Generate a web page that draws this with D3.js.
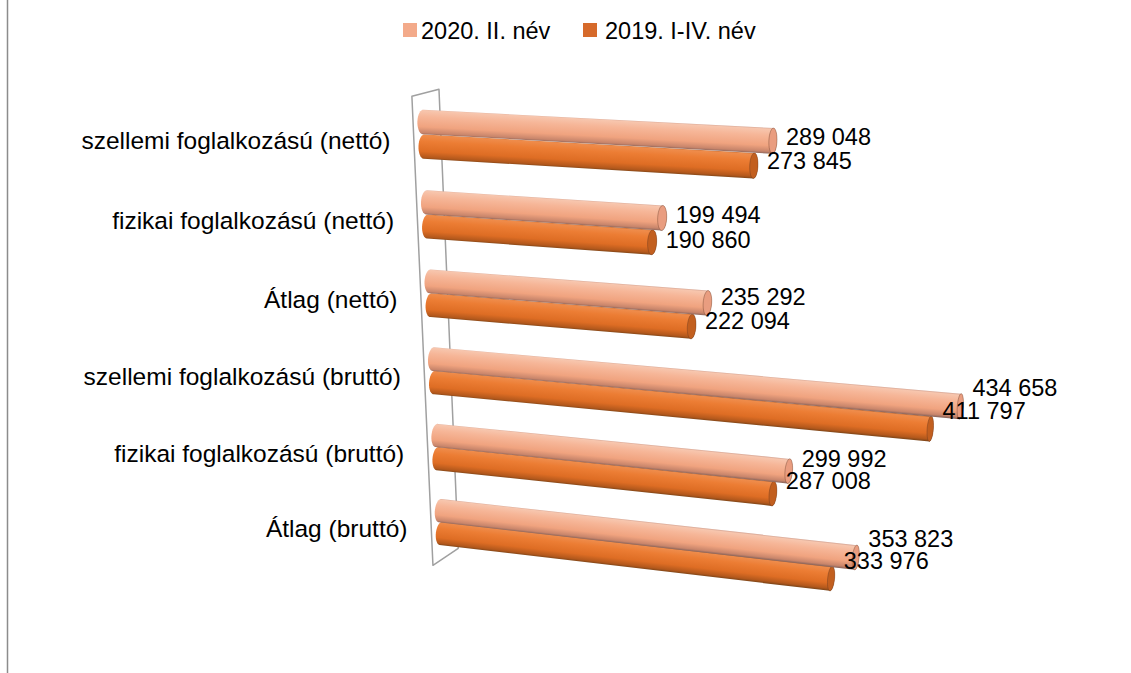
<!DOCTYPE html>
<html>
<head>
<meta charset="utf-8">
<script src="https://cdn.jsdelivr.net/npm/d3@7"></script>
<style>
  body { margin: 0; background: #fff; }
  svg { display: block; font-family: "Liberation Sans", Arial, sans-serif; }
</style>
</head>
<body>
<svg id="chart"></svg>
<script>
// data
const categories = [
  "szellemi foglalkozású (nettó)",
  "fizikai foglalkozású (nettó)",
  "Átlag (nettó)",
  "szellemi foglalkozású (bruttó)",
  "fizikai foglalkozású (bruttó)",
  "Átlag (bruttó)"
];
const seriesNames = ["2020. II. név", "2019. I-IV. név"];
const values2020 = [289048, 199494, 235292, 434658, 299992, 353823];
const values2019 = [273845, 190860, 222094, 411797, 287008, 333976];
const valueMax = 500000;

const legendColors = ["#F3AA8A", "#D66A2B"];
const capColors = ["#E99D80", "#C25F1F"];
const shadeStops = [
  [[0, "#D0A090"], [0.07, "#F7C6AE"], [0.3, "#F6B698"], [0.68, "#F0A37F"], [0.9, "#C8856B"], [1, "#80605A"]],
  [[0, "#C06A30"], [0.07, "#EF8C4B"], [0.3, "#EC7D34"], [0.68, "#DE6D24"], [0.9, "#B3581C"], [1, "#774318"]]
];

const W = 1131, H = 673;
const svg = d3.select("#chart").attr("width", W).attr("height", H);
svg.append("rect").attr("width", W).attr("height", H).attr("fill", "#fff");

// left edge of the chart frame
svg.append("line")
  .attr("x1", 7.5).attr("x2", 7.5).attr("y1", 0).attr("y2", H)
  .attr("stroke", "#8c8c8c").attr("stroke-width", 1.5);

// perspective camera: origin + vanishing points for value, category and depth directions
const view = {
  origin: [423, 122],
  vpValue: [-6193, -236], kValue: -0.0869,
  vpCat: [840, 9637], kCat: 0.04514,
  vpDepth: [1581, -205], kDepth: 0.03005
};
function project(u, w, z) {
  const a = view.kValue * u, b = view.kCat * w, c = view.kDepth * z;
  const den = 1 + a + b + c;
  return [
    (view.origin[0] + a * view.vpValue[0] + b * view.vpCat[0] + c * view.vpDepth[0]) / den,
    (view.origin[1] + a * view.vpValue[1] + b * view.vpCat[1] + c * view.vpDepth[1]) / den
  ];
}

// scales
const xScale = d3.scaleLinear().domain([0, valueMax]).range([0, 1]);
const yScale = d3.scaleBand().domain(categories)
  .range([-0.0656, 1.0666]).paddingInner(0.39).paddingOuter(0.195);
const sScale = d3.scaleBand().domain([0, 1]).range([0, yScale.bandwidth()]);

const fmt = d3.formatLocale({ decimal: ",", thousands: " ", grouping: [3], currency: ["", ""] }).format(",d");

// side wall at value 0
const zFront = -0.28, zBack = 0.5;
const [wTop, wBot] = yScale.range();
const wall = [[0, wTop, zFront], [0, wTop, zBack], [0, wBot, zBack], [0, wBot, zFront]]
  .map(p => project(...p));
svg.append("path")
  .attr("d", "M" + wall.join("L") + "Z")
  .attr("fill", "none").attr("stroke", "#a0a0a0").attr("stroke-width", 1.5)
  .attr("stroke-linejoin", "round");

// bar records
const bars = [];
categories.forEach((c, i) => {
  [values2020[i], values2019[i]].forEach((v, s) => {
    bars.push({ cat: c, s: s, value: v, wc: yScale(c) + sScale(s) + sScale.bandwidth() / 2 });
  });
});

const rw = sScale.bandwidth() / 2 * 0.98;
const rz = 0.16;
function ring(u, wc) {
  return d3.range(32).map(k => {
    const t = k / 32 * 2 * Math.PI;
    return project(u, wc + rw * Math.cos(t), rz * Math.sin(t));
  });
}

const defs = svg.append("defs");
const gBars = svg.append("g");

// draw lower series first so the upper one sits on top
const order = [];
categories.forEach(c => { order.push(bars.find(b => b.cat === c && b.s === 1)); order.push(bars.find(b => b.cat === c && b.s === 0)); });

order.forEach((b, idx) => {
  const u = xScale(b.value);
  const left = ring(0, b.wc), right = ring(u, b.wc);
  const hull = d3.polygonHull(left.concat(right));
  b.hull = hull;
  b.end = project(u, b.wc, 0);

  const p0 = project(0, b.wc, 0), p1 = b.end;
  const mid = project(u / 2, b.wc, 0);
  const top = project(u / 2, b.wc - rw, 0), bot = project(u / 2, b.wc + rw, 0);
  let dx = p1[0] - p0[0], dy = p1[1] - p0[1];
  const len = Math.hypot(dx, dy);
  let nx = -dy / len, ny = dx / len;
  if (ny < 0) { nx = -nx; ny = -ny; }
  const half = Math.hypot(bot[0] - top[0], bot[1] - top[1]) / 2 + 1;
  const gid = "shade" + idx;
  const grad = defs.append("linearGradient").attr("id", gid)
    .attr("gradientUnits", "userSpaceOnUse")
    .attr("x1", mid[0] - nx * half).attr("y1", mid[1] - ny * half)
    .attr("x2", mid[0] + nx * half).attr("y2", mid[1] + ny * half);
  shadeStops[b.s].forEach(st => grad.append("stop").attr("offset", st[0]).attr("stop-color", st[1]));

  gBars.append("path")
    .attr("d", "M" + hull.join("L") + "Z")
    .attr("fill", `url(#${gid})`);
  gBars.append("path")
    .attr("d", "M" + right.join("L") + "Z")
    .attr("fill", capColors[b.s])
    .attr("stroke", "rgba(90,50,30,0.45)").attr("stroke-width", 0.8);
});

// value labels
svg.append("g").selectAll("text")
  .data(bars)
  .join("text")
    .attr("x", d => d3.max(d.hull, p => p[0]) + 9)
    .attr("y", d => (d3.min(d.hull, p => p[1]) + d3.max(d.hull, p => p[1])) / 2 + 5)
    .attr("dominant-baseline", "central")
    .attr("font-size", "23.5px")
    .attr("fill", "#000")
    .text(d => fmt(d.value));

// category labels
svg.append("g").selectAll("text")
  .data(categories)
  .join("text")
    .attr("x", d => project(0, yScale(d) + yScale.bandwidth() / 2, 0)[0] - 33)
    .attr("y", d => project(0, yScale(d) + yScale.bandwidth() / 2, 0)[1] + 6)
    .attr("text-anchor", "end")
    .attr("dominant-baseline", "central")
    .attr("font-size", "24.5px")
    .attr("fill", "#000")
    .text(d => d);

// legend
const legend = svg.append("g");
const legendX = [403, 583];
seriesNames.forEach((name, i) => {
  legend.append("rect")
    .attr("x", legendX[i]).attr("y", 23).attr("width", 14).attr("height", 14)
    .attr("fill", legendColors[i]);
  legend.append("text")
    .attr("x", legendX[i] + (i === 0 ? 18 : 22)).attr("y", 31)
    .attr("dominant-baseline", "central")
    .attr("font-size", "23.5px")
    .attr("fill", "#000")
    .text(name);
});
</script>
</body>
</html>
